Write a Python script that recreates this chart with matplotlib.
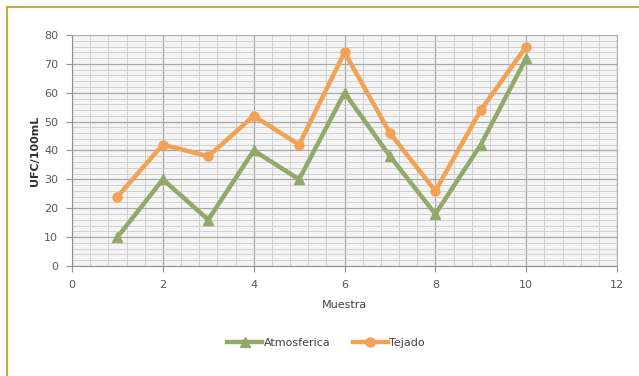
import matplotlib
matplotlib.use('Agg')
from matplotlib import pyplot
from matplotlib.ticker import MultipleLocator
from matplotlib.lines import Line2D

muestra = [1, 2, 3, 4, 5, 6, 7, 8, 9, 10]
atmosferica = [10, 30, 16, 40, 30, 60, 38, 18, 42, 72]
tejado = [24, 42, 38, 52, 42, 74, 46, 26, 54, 76]

verde = '#93a96a'
naranja = '#f3a253'
gris = '#5a5a5a'

fig = pyplot.figure(figsize=(6.39, 3.76), dpi=100)
ax = fig.add_axes([0.1127, 0.2926, 0.853, 0.6143])

ax.plot(muestra, atmosferica, color=verde, lw=3.2, marker='^', ms=6.5, label='Atmosferica', zorder=3)
ax.plot(muestra, tejado, color=naranja, lw=3.2, marker='o', ms=6.5, label='Tejado', zorder=4)

ax.set_xlim(0, 12)
ax.set_ylim(0, 80)
ax.xaxis.set_major_locator(MultipleLocator(2))
ax.xaxis.set_minor_locator(MultipleLocator(0.4))
ax.yaxis.set_major_locator(MultipleLocator(10))
ax.yaxis.set_minor_locator(MultipleLocator(2))
ax.grid(which='major', color='#a8a8a8', lw=0.9)
ax.grid(which='minor', color='#d0d0d0', lw=0.7)
ax.set_axisbelow(True)
ax.set_facecolor('#f4f4f4')

for s in ('top', 'right'):
    ax.spines[s].set_color('#b0b0b0')
for s in ('left', 'bottom'):
    ax.spines[s].set_color('#909090')
ax.tick_params(which='major', direction='out', length=4, color='#909090',
               labelsize=8, labelcolor=gris, pad=6)
ax.tick_params(which='minor', length=0)

ax.set_xlabel('Muestra', fontsize=8, color='#404040', labelpad=7)
ax.set_ylabel('UFC/100mL', fontsize=8, fontweight='bold', color='#303030', labelpad=3)

handles = [Line2D([], [], color=verde, lw=3.2, marker='^', ms=6.5),
           Line2D([], [], color=naranja, lw=3.2, marker='o', ms=6.5)]
fig.legend(handles, ['Atmosferica', 'Tejado'], loc='center', bbox_to_anchor=(0.51, 0.088),
           ncol=2, frameon=False, fontsize=8, handlelength=3.2, handletextpad=0.1,
           columnspacing=2.0, labelcolor='#404040')

# marco del recuadro
fig.add_artist(Line2D([7 / 639, 1], [1 - 7 / 376, 1 - 7 / 376], color='#b9b244', lw=1.5))
fig.add_artist(Line2D([7 / 639, 7 / 639], [0, 1 - 7 / 376], color='#b9b244', lw=1.5))

fig.savefig('out.png')
